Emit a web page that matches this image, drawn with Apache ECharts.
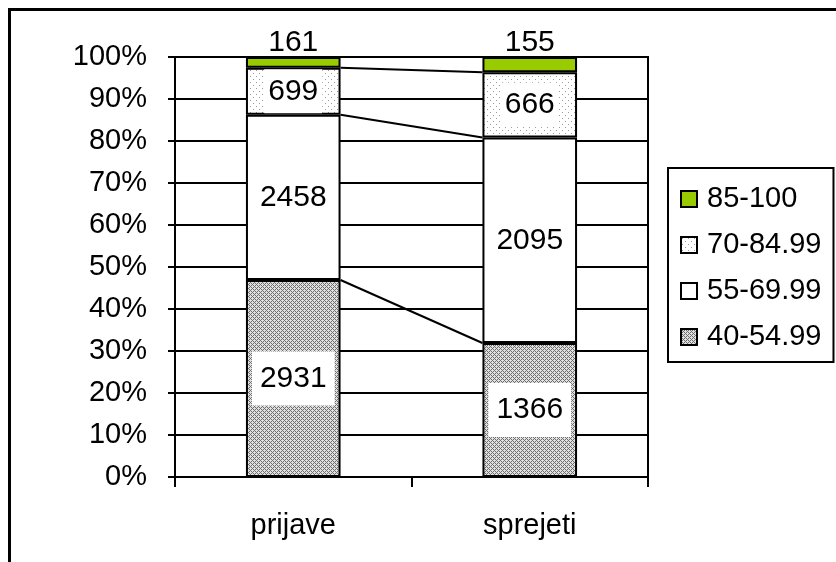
<!DOCTYPE html>
<html>
<head>
<meta charset="utf-8">
<script src="https://cdn.jsdelivr.net/npm/echarts@6/dist/echarts.min.js"></script>
<style>html,body{margin:0;padding:0;background:#fff}#c{width:836px;height:562px}</style>
</head>
<body>
<div id="c"></div>
<script>
const categories = ['prijave', 'sprejeti'];
const seriesNames = ['40-54.99', '55-69.99', '70-84.99', '85-100'];
const v40 = [2931, 1366];
const v55 = [2458, 2095];
const v70 = [699, 666];
const v85 = [161, 155];
const legendOrder = ['85-100', '70-84.99', '55-69.99', '40-54.99'];

const counts = [v40, v55, v70, v85];
const totals = categories.map((_, i) => counts.reduce((s, a) => s + a[i], 0));
const pcts = counts.map(a => a.map((v, i) => v / totals[i] * 100));
// cumulative tops of first three segments (for series lines)
const cum = [];
let run = [0, 0];
for (let k = 0; k < 3; k++) {
  run = run.map((r, i) => r + pcts[k][i]);
  cum.push([0, run[0], run[1]]);
}

function makePattern(size, bg, fg, pts) {
  const c = document.createElement('canvas');
  c.width = c.height = size;
  const ctx = c.getContext('2d');
  ctx.fillStyle = bg; ctx.fillRect(0, 0, size, size);
  ctx.fillStyle = fg;
  pts.forEach(p => ctx.fillRect(p[0], p[1], 1, 1));
  return c;
}
const hatch = { image: makePattern(4, '#e0e0e0', '#6e6e6e', [[0,0],[1,1],[2,2],[3,3],[1,3],[3,1]]), repeat: 'repeat' };
const dots = { image: makePattern(6, '#ffffff', '#9a9a9a', [[1,1],[4,4]]), repeat: 'repeat' };
const fills = [hatch, '#ffffff', dots, '#99cc00'];
const FONT = 'Liberation Sans, Arial, sans-serif';

const barSeries = seriesNames.map((name, k) => ({
  name, type: 'bar', stack: 'total', barWidth: '40%',
  data: pcts[k],
  itemStyle: { color: fills[k], borderColor: '#000', borderWidth: 2 },
  emphasis: { disabled: true },
  label: {
    show: true,
    position: k === 3 ? 'top' : 'inside',
    distance: k === 3 ? -1 : 5,
    formatter: p => String(counts[k][p.dataIndex]),
    fontFamily: FONT, fontSize: 30, lineHeight: 30, color: '#000',
    backgroundColor: k === 3 ? 'transparent' : '#fff',
    padding: k === 3 ? 0 : (k === 2 ? [7, 4] : [12, 8])
  }
}));

const chart = echarts.init(document.getElementById('c'), null, { renderer: 'canvas' });
chart.setOption({
  animation: false,
  backgroundColor: '#fff',
  graphic: [{
    type: 'rect', shape: { x: 9.5, y: 9.5, width: 1000, height: 1000 },
    style: { fill: 'none', stroke: '#000', lineWidth: 3 }, z: 100
  }],
  grid: { left: 175, right: 188, top: 57, bottom: 85, show: true, borderColor: '#000', borderWidth: 2, backgroundColor: '#fff' },
  legend: {
    data: legendOrder, orient: 'vertical', left: 668, top: 168,
    padding: [16, 12, 10, 12], itemGap: 16, itemWidth: 16, itemHeight: 16,
    borderColor: '#000', borderWidth: 2, backgroundColor: '#fff',
    icon: 'rect',
    textStyle: { fontFamily: FONT, fontSize: 29, lineHeight: 30, color: '#000', padding: [0, 0, 0, 5] }
  },
  xAxis: {
    type: 'category', data: categories,
    axisLine: { lineStyle: { color: '#000', width: 2 } },
    axisTick: { show: true, interval: 0, length: 10, lineStyle: { color: '#000', width: 2 } },
    axisLabel: { fontFamily: FONT, fontSize: 29, color: '#000', margin: 34 }
  },
  yAxis: {
    type: 'value', min: 0, max: 100, interval: 10,
    axisLine: { show: true, lineStyle: { color: '#000', width: 2 } },
    axisTick: { show: true, length: 7, lineStyle: { color: '#000', width: 2 } },
    axisLabel: { formatter: '{value}%', fontFamily: FONT, fontSize: 29, color: '#000', margin: 28 },
    splitLine: { lineStyle: { color: '#000', width: 2 } }
  },
  series: barSeries.concat([{
    type: 'custom', name: 'lines', silent: true, z: 5,
    encode: { x: 0, y: [1, 2] },
    data: cum,
    renderItem: (params, api) => {
      const p0 = api.coord([0, api.value(1)]);
      const p1 = api.coord([1, api.value(2)]);
      const half = api.size([1, 0])[0] * 0.2;
      return { type: 'line', shape: { x1: p0[0] + half, y1: p0[1], x2: p1[0] - half, y2: p1[1] },
               style: { stroke: '#000', lineWidth: 2 } };
    }
  }])
});
</script>
</body>
</html>
